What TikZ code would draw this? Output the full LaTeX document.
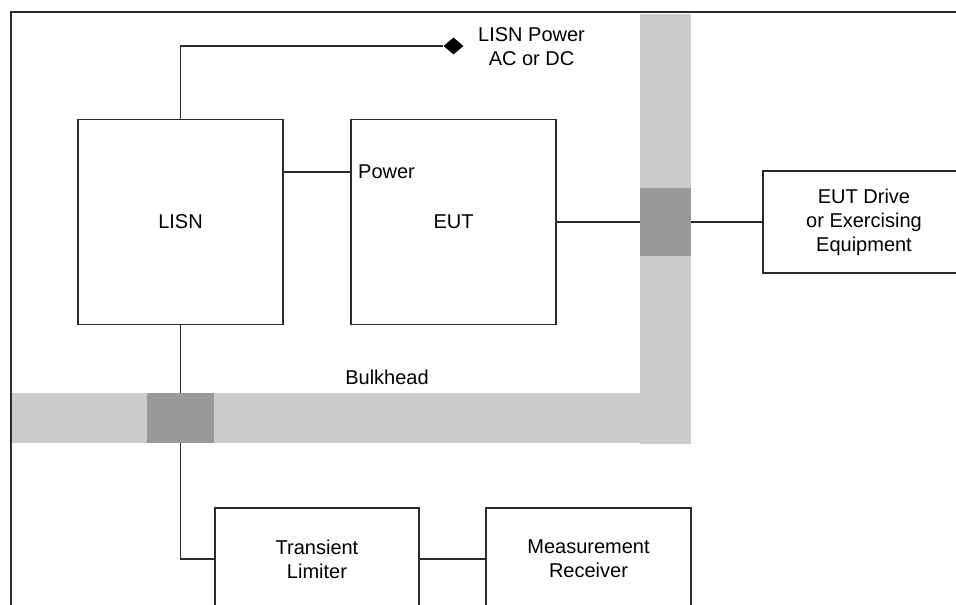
\documentclass[tikz,border=0pt]{standalone}
\usepackage{fontspec}
\setmainfont{Liberation Sans}
\usetikzlibrary{shapes.geometric}
\definecolor{wallgray}{HTML}{CCCCCC}
\definecolor{feedgray}{HTML}{999999}
\definecolor{linegray}{HTML}{2A2A2A}
\tikzset{
  every node/.style={font=\fontsize{20}{24}\selectfont, text=black},
  blockbox/.style={draw=linegray, line width=1.3pt, fill=white, inner sep=0pt, align=center},
  feedbox/.style={fill=feedgray, draw=none, inner sep=0pt},
  wire/.style={draw=linegray, line width=1.3pt},
  plainlabel/.style={inner sep=0pt, align=center},
  termdot/.style={diamond, fill=black, draw=none, inner sep=0pt, minimum width=20pt, minimum height=17pt}
}
\begin{document}
\begin{tikzpicture}[x=1pt, y=-1pt]
\useasboundingbox (0,0) rectangle (956,605);
% outer frame
\draw[wire] (11,610) -- (11,12) -- (960,12);
% bulkhead walls
\fill[wallgray] (640,14) rectangle (691,444);
\fill[wallgray] (12,393) rectangle (691,443);
% feedthroughs
\node[feedbox, minimum width=51pt, minimum height=68pt] (ft1) at (665.5,222) {};
\node[feedbox, minimum width=67pt, minimum height=50pt] (ft2) at (180.5,418) {};
% blocks
\node[blockbox, minimum width=205pt, minimum height=205pt] (lisn) at (180.5,222) {LISN};
\node[blockbox, minimum width=205pt, minimum height=205pt] (eut) at (453.5,222) {EUT};
\node[blockbox, minimum width=202pt, minimum height=102pt] (drive) at (864,222) {EUT Drive\\or Exercising\\Equipment};
\node[blockbox, minimum width=204pt, minimum height=102pt] (tl) at (317,559) {Transient\\Limiter};
\node[blockbox, minimum width=205pt, minimum height=102pt] (mr) at (588.5,559) {Measurement\\Receiver};
% terminal
\node[termdot] (term) at (453.5,46) {};
\node[plainlabel, anchor=west] (termlbl) at (478,47) {LISN Power\\AC or DC};
% labels
\node[plainlabel, anchor=west] (pwrlbl) at (358,172) {Power};
\node[plainlabel] (bulk) at (387,377) {Bulkhead};
% connectors
\draw[wire] (lisn.north) |- (term.west);
\draw[wire] (lisn.east |- pwrlbl) -- (eut.west |- pwrlbl);
\draw[wire] (eut.east) -- (ft1.west);
\draw[wire] (ft1.east) -- (drive.west);
\draw[wire] (lisn.south) -- (ft2.north);
\draw[wire] (ft2.south) |- (tl.west);
\draw[wire] (tl.east) -- (mr.west);
\end{tikzpicture}
\end{document}
